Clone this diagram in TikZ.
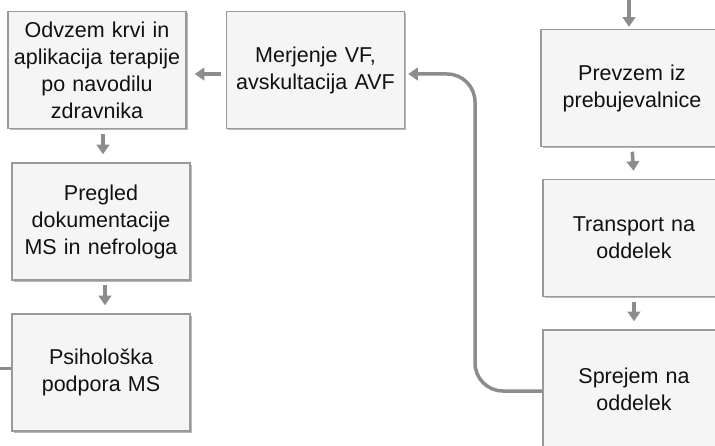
\documentclass[tikz,border=0pt]{standalone}
\usepackage{fontspec}
\setmainfont{Liberation Sans}
\usetikzlibrary{arrows.meta,shadows}
\definecolor{boxfill}{HTML}{F5F5F5}
\definecolor{boxline}{HTML}{9A9A9A}
\definecolor{flow}{HTML}{8C8C8C}
\definecolor{ink}{HTML}{111111}
\begin{document}
\begin{tikzpicture}[x=1pt,y=-1pt,
  stepbox/.style={draw=boxline,line width=1.5pt,fill=boxfill,
    minimum width=178pt,minimum height=117pt,inner sep=0pt,
    text width=174pt,align=center,text=ink,
    font=\fontsize{21.5}{27}\selectfont,
    drop shadow={shadow xshift=1.6pt,shadow yshift=-1.6pt,fill=black,opacity=0.28}},
  flowarrow/.style={draw=flow,line width=3.5pt,
    -{Triangle[width=12.5pt,length=9.5pt]},shorten <=4.5pt,shorten >=8pt},
  flowline/.style={draw=flow,line width=3pt}]
\useasboundingbox (0,0) rectangle (715,446);
\clip (0,0) rectangle (715,446);
\fill[white] (0,0) rectangle (715,446);

% left column
\node[stepbox] (odvzem) at (97,70) {Odvzem krvi in\\aplikacija terapije\\po navodilu\\zdravnika};
\node[stepbox] (merjenje) at (315.5,70) {Merjenje VF,\\avskultacija AVF};
\node[stepbox] (pregled) at (101,221.5) {Pregled\\dokumentacije\\MS in nefrologa};
\node[stepbox] (psiho) at (101,372.5) {Psihološka\\podpora MS};

% right column
\node[stepbox,minimum width=182pt] (prevzem) at (632,88) {Prevzem iz\\prebujevalnice};
\node[stepbox,minimum width=182pt] (transport) at (634,238) {Transport na\\oddelek};
\node[stepbox,minimum width=182pt,minimum height=118pt] (sprejem) at (634,389) {Sprejem na\\oddelek};

% incoming ends
\coordinate (topin) at (629,-2);
\coordinate (leftin) at (-2,368);

% connectors
\draw[flowarrow,shorten <=0pt,shorten >=2pt] (topin) -- (topin |- prevzem.north);
\draw[flowarrow] (prevzem.south) -- (transport.north);
\draw[flowarrow] (transport.south) -- (sprejem.north);
\draw[flowarrow] (merjenje.west |- 0,74) -- (odvzem.east |- 0,74);
\draw[flowarrow] ([xshift=6pt]odvzem.south) -- ([xshift=2pt]pregled.north);
\draw[flowarrow] ([xshift=4pt]pregled.south) -- ([xshift=4pt]psiho.north);
\draw[flowline] (leftin) -- (leftin -| psiho.west);
\draw[flowarrow,shorten <=0pt,shorten >=3pt,rounded corners=28pt]
  (sprejem.west |- 0,391) -- (475,391) -- (475,74) -- (merjenje.east |- 0,74);
\end{tikzpicture}
\end{document}
